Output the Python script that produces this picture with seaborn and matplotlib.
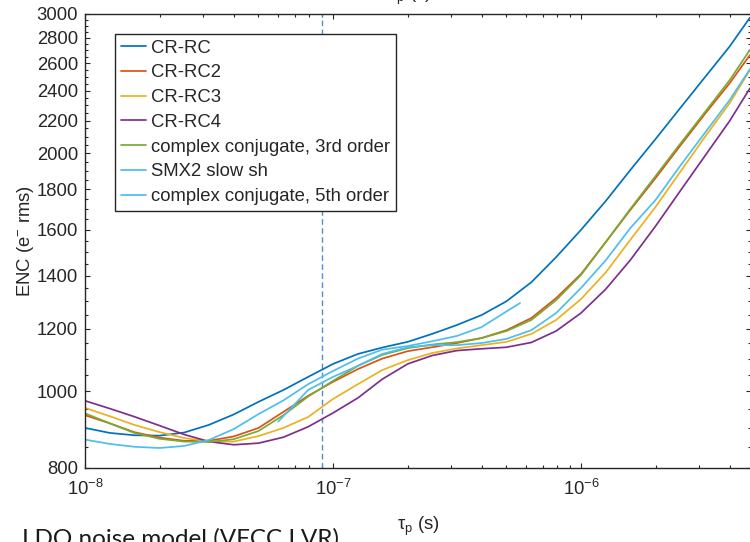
import numpy as np
import pandas as pd
import matplotlib
matplotlib.use("Agg")
import matplotlib.pyplot as plt
import seaborn as sns
from matplotlib.ticker import (FixedLocator, FuncFormatter, LogLocator,
                               LogFormatterSciNotation, NullFormatter)

# Peaking time grid (s)
tau = [1.00e-8, 1.26e-8, 1.58e-8, 2.00e-8, 2.51e-8, 3.16e-8, 3.98e-8, 5.01e-8,
       6.31e-8, 7.94e-8, 1.00e-7, 1.26e-7, 1.58e-7, 2.00e-7, 2.51e-7, 3.16e-7,
       3.98e-7, 5.01e-7, 6.31e-7, 7.94e-7, 1.00e-6, 1.26e-6, 1.58e-6, 2.00e-6,
       2.51e-6, 3.16e-6, 3.98e-6, 4.80e-6]

# ENC (e- rms) per shaper
enc_crrc = [899, 886, 880, 879, 887, 907, 935, 970, 1004, 1043, 1083, 1115, 1136,
            1155, 1182, 1213, 1249, 1300, 1374, 1478, 1600, 1741, 1904, 2085,
            2280, 2495, 2730, 2968]
enc_crrc2 = [933, 911, 888, 874, 866, 866, 877, 899, 942, 987, 1028, 1067, 1100,
             1124, 1137, 1151, 1168, 1195, 1238, 1312, 1407, 1545, 1695, 1861,
             2043, 2242, 2453, 2662]
enc_crrc3 = [953, 930, 907, 888, 873, 864, 864, 878, 899, 928, 978, 1021, 1064,
             1095, 1118, 1133, 1144, 1155, 1182, 1231, 1308, 1414, 1554, 1711,
             1893, 2097, 2315, 2548]
enc_crrc4 = [973, 951, 929, 905, 882, 864, 856, 860, 875, 902, 939, 981, 1036,
             1083, 1110, 1126, 1132, 1137, 1153, 1192, 1256, 1347, 1465, 1618,
             1791, 1984, 2198, 2416]
enc_cc3 = [938, 911, 886, 871, 864, 863, 870, 891, 933, 985, 1031, 1077, 1112,
           1134, 1146, 1154, 1168, 1192, 1231, 1304, 1403, 1545, 1700, 1872,
           2055, 2254, 2475, 2702]

tau_smx2 = [1.00e-8, 1.26e-8, 1.58e-8, 2.00e-8, 2.51e-8, 3.16e-8, 3.98e-8,
            5.01e-8, 6.31e-8, 7.94e-8, 1.00e-7, 1.26e-7, 1.58e-7, 2.00e-7,
            2.51e-7, 3.16e-7, 3.98e-7, 5.01e-7, 5.68e-7]
enc_smx2 = [869, 858, 851, 848, 853, 868, 896, 936, 974, 1021, 1061, 1100, 1129,
            1141, 1157, 1175, 1206, 1262, 1293]

tau_cc5 = [6.02e-8, 6.31e-8, 7.94e-8, 1.00e-7, 1.26e-7, 1.58e-7, 2.00e-7,
           2.51e-7, 3.16e-7, 3.98e-7, 5.01e-7, 6.31e-7, 7.94e-7, 1.00e-6,
           1.26e-6, 1.58e-6, 2.00e-6, 2.51e-6, 3.16e-6, 3.98e-6, 4.80e-6]
enc_cc5 = [916, 930, 1004, 1043, 1077, 1115, 1137, 1144, 1144, 1151, 1165, 1195,
           1256, 1351, 1465, 1608, 1746, 1927, 2122, 2336, 2555]

series_names = ["CR-RC", "CR-RC2", "CR-RC3", "CR-RC4",
                "complex conjugate, 3rd order", "SMX2 slow sh",
                "complex conjugate, 5th order"]
series_colors = ["#0072BD", "#D95319", "#EDB120", "#7E2F8E", "#77AC30",
                 "#4DBEEE", "#4DBEEE"]
y_ticks = [800, 1000, 1200, 1400, 1600, 1800, 2000, 2200, 2400, 2600, 2800, 3000]
tau_marker = 9.0e-8

sns.set_theme(style="ticks")
plt.rcParams["font.family"] = ["Liberation Sans", "DejaVu Sans"]
plt.rcParams.update({
    "mathtext.fontset": "custom",
    "mathtext.rm": "Liberation Sans",
    "mathtext.it": "Liberation Sans:italic",
    "mathtext.bf": "Liberation Sans:bold",
    "mathtext.default": "regular",
})

curves = [
    (series_names[0], tau, enc_crrc),
    (series_names[1], tau, enc_crrc2),
    (series_names[2], tau, enc_crrc3),
    (series_names[3], tau, enc_crrc4),
    (series_names[4], tau, enc_cc3),
    (series_names[5], tau_smx2, enc_smx2),
    (series_names[6], tau_cc5, enc_cc5),
]
df = pd.concat([pd.DataFrame({"tau": t, "enc": v, "series": n}) for n, t, v in curves],
               ignore_index=True)

ink = "#262626"
fs = 13.3

fig = plt.figure(figsize=(7.5, 5.42), dpi=100)
ax = fig.add_axes([85 / 750, (542 - 468) / 542, 666 / 750, 454 / 542])
ax.set_xscale("log")
ax.set_yscale("log")

sns.lineplot(data=df, x="tau", y="enc", hue="series", hue_order=series_names,
             palette=dict(zip(series_names, series_colors)), estimator=None,
             sort=False, lw=1.25, ax=ax)

ax.axvline(tau_marker, color="#4A90D9", ls=(0, (4, 2.5)), lw=1.0, zorder=1)

ax.set_xlim(1e-8, 4.85e-6)
ax.set_ylim(800, 3000)

ax.xaxis.set_major_locator(LogLocator(base=10, numticks=10))
ax.xaxis.set_major_formatter(LogFormatterSciNotation())
ax.xaxis.set_minor_locator(LogLocator(base=10, subs=np.arange(2, 10), numticks=20))
ax.xaxis.set_minor_formatter(NullFormatter())

ax.yaxis.set_major_locator(FixedLocator(y_ticks))
ax.yaxis.set_major_formatter(FuncFormatter(lambda v, p: f"{v:.0f}"))
minor_y = [v for v in range(800, 3001, 50) if v not in y_ticks]
ax.yaxis.set_minor_locator(FixedLocator(minor_y))
ax.yaxis.set_minor_formatter(NullFormatter())

ax.tick_params(which="both", direction="in", top=True, right=True,
               color=ink, labelcolor=ink, labelsize=fs, width=0.8)
ax.tick_params(which="major", length=3.6)
ax.tick_params(which="minor", length=2.2)
ax.tick_params(axis="x", which="major", pad=8)
ax.tick_params(axis="y", which="major", pad=5)
for s in ax.spines.values():
    s.set_visible(True)
    s.set_color(ink)
    s.set_linewidth(1.0)

ax.set_xlabel(r"$\tau_{\mathrm{p}}$ (s)", fontsize=fs, color=ink)
ax.xaxis.set_label_coords(0.5, -0.103)
ax.set_ylabel(r"ENC (e$^{-}$ rms)", fontsize=fs, color=ink)
ax.yaxis.set_label_coords(-0.0736, 0.5)

handles, labels = ax.get_legend_handles_labels()
leg = ax.legend(handles, labels, loc="upper left",
                bbox_to_anchor=((115 - 85) / 666, (468 - 34) / 454),
                borderaxespad=0, fontsize=fs, frameon=True, fancybox=False,
                framealpha=1, edgecolor=ink, handlelength=1.4,
                handletextpad=0.25, labelspacing=0.42, borderpad=0.3)
leg.get_frame().set_linewidth(1.0)
for t in leg.get_texts():
    t.set_color(ink)

# neighbouring panel label above and caption text below the figure
fig.text(0.547, 1 + 1 / 542, r"$\tau_{\mathrm{p}}$ (s)", ha="center",
         va="baseline", fontsize=fs, color=ink)
fig.text(22 / 750, -4 / 542, "LDO noise model (VFCC LVR).", ha="left",
         va="baseline", fontsize=17.5, family=["Lato", "DejaVu Sans"],
         color="#1a1a1a")

fig.savefig("out.png", dpi=100)
